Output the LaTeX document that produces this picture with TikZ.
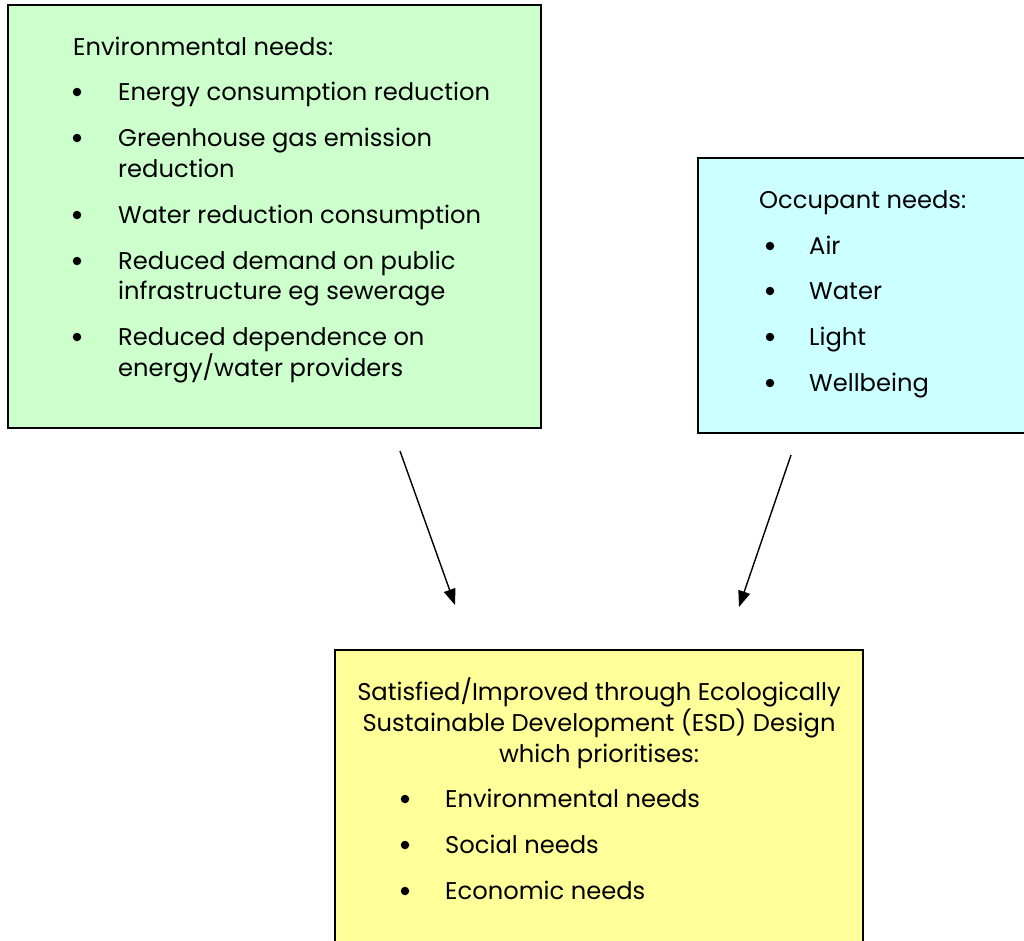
\documentclass[tikz,border=0pt]{standalone}
\usepackage{fontspec}
\setmainfont{Poppins}
\usetikzlibrary{arrows.meta}
\definecolor{envgreen}{HTML}{CCFFCC}
\definecolor{occcyan}{HTML}{CCFFFF}
\definecolor{esdyellow}{HTML}{FFFF99}

\begin{document}
\begin{tikzpicture}[x=1pt,y=-1pt,
    needbox/.style={draw=black,line width=2pt,anchor=north west,inner sep=0pt,outer sep=0pt},
    txt/.style={anchor=base west,inner sep=0pt,font=\fontsize{24.2}{28}\selectfont},
    ctxt/.style={anchor=base,inner sep=0pt,font=\fontsize{24.2}{28}\selectfont},
    dot/.style={circle,fill=black,inner sep=0pt,minimum size=8.5pt},
    needarrow/.style={-{Triangle[length=16pt,width=12pt]},line width=1.4pt}]
  \clip (0,0) rectangle (1024,940);
  \fill[white] (0,0) rectangle (1024,940);

  % the three boxes
  \node[needbox,fill=envgreen,minimum width=533,minimum height=423] (envbox) at (8,5) {};
  \node[needbox,fill=occcyan,minimum width=340,minimum height=275] (occbox) at (698,158) {};
  \node[needbox,fill=esdyellow,minimum width=528,minimum height=300] (esdbox) at (335,650) {};

  % environmental needs
  \node[txt] (envtitle) at (73,55.5) {Environmental needs:};
  \node[dot] (envdot1) at (77,92) {};
  \node[txt] (env1) at (118,100.5) {Energy consumption reduction};
  \node[dot] (envdot2) at (77,138) {};
  \node[txt] (env2a) at (118,146.5) {Greenhouse gas emission};
  \node[txt] (env2b) at (118,177.5) {reduction};
  \node[dot] (envdot3) at (77,215) {};
  \node[txt] (env3) at (118,223.5) {Water reduction consumption};
  \node[dot] (envdot4) at (77,261) {};
  \node[txt] (env4a) at (118,269.5) {Reduced demand on public};
  \node[txt] (env4b) at (118,299.5) {infrastructure eg sewerage};
  \node[dot] (envdot5) at (77,337) {};
  \node[txt] (env5a) at (118,345.5) {Reduced dependence on};
  \node[txt] (env5b) at (118,376.5) {energy/water providers};

  % occupant needs
  \node[txt] (occtitle) at (759,208.5) {Occupant needs:};
  \node[dot] (occdot1) at (770,246) {};
  \node[txt] (occ1) at (809,254.5) {Air};
  \node[dot] (occdot2) at (770,291) {};
  \node[txt] (occ2) at (809,299.5) {Water};
  \node[dot] (occdot3) at (770,337) {};
  \node[txt] (occ3) at (809,345.5) {Light};
  \node[dot] (occdot4) at (770,383) {};
  \node[txt] (occ4) at (809,391.5) {Wellbeing};

  % ESD design
  \node[ctxt] (esda) at (599,700.5) {Satisfied/Improved through Ecologically};
  \node[ctxt] (esdb) at (599,731.5) {Sustainable Development (ESD) Design};
  \node[ctxt] (esdc) at (599,762.5) {which prioritises:};
  \node[dot] (esddot1) at (405,799) {};
  \node[txt] (esd1) at (445,807.5) {Environmental needs};
  \node[dot] (esddot2) at (405,845) {};
  \node[txt] (esd2) at (445,853.5) {Social needs};
  \node[dot] (esddot3) at (405,891) {};
  \node[txt] (esd3) at (445,899.5) {Economic needs};

  % arrows
  \coordinate (envout) at (400,451);
  \coordinate (esdinl) at (455,605);
  \coordinate (occout) at (791,455);
  \coordinate (esdinr) at (739,607);
  \draw[needarrow] (envout) -- (esdinl);
  \draw[needarrow] (occout) -- (esdinr);
\end{tikzpicture}
\end{document}
